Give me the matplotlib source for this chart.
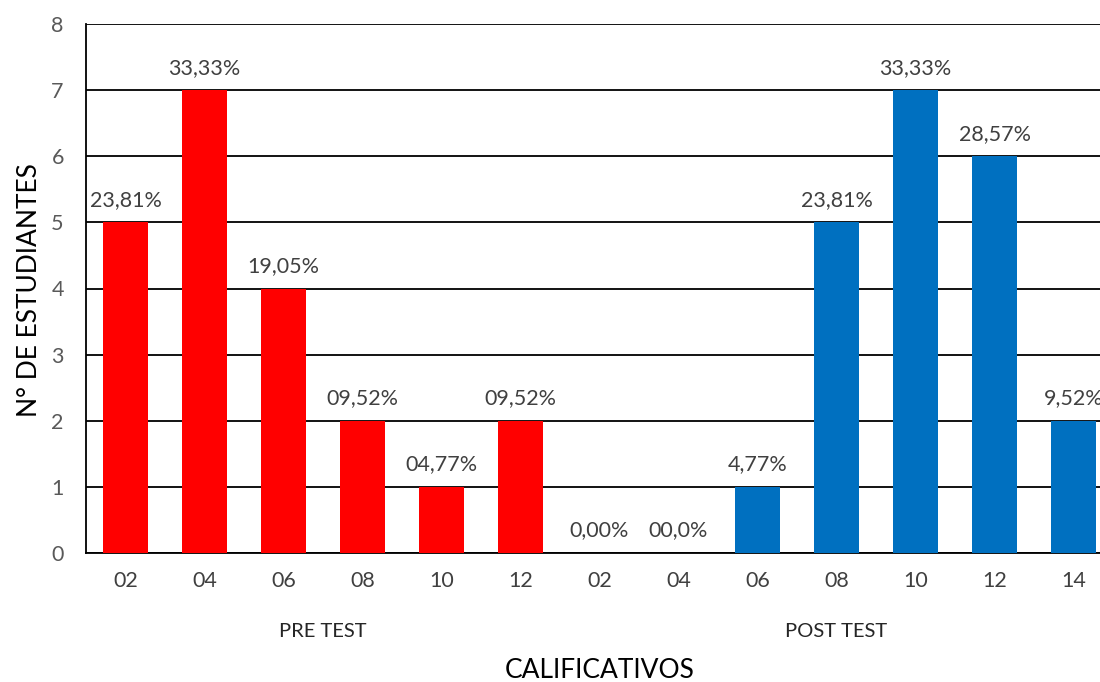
import matplotlib
matplotlib.use('Agg')
import numpy as np
from matplotlib import pyplot as plt

plt.rcParams['font.family'] = ['Lato', 'DejaVu Sans']

# calificativos por grupo
categorias = ['02', '04', '06', '08', '10', '12', '02', '04', '06', '08', '10', '12', '14']
estudiantes = [5, 7, 4, 2, 1, 2, 0, 0, 1, 5, 7, 6, 2]
porcentajes = ['23,81%', '33,33%', '19,05%', '09,52%', '04,77%', '09,52%',
               '0,00%', '00,0%', '4,77%', '23,81%', '33,33%', '28,57%', '9,52%']
grupos = ['PRE TEST', 'POST TEST']
n_pre = 6

colores = ['#FF0000'] * n_pre + ['#0070C0'] * (len(categorias) - n_pre)

fig = plt.figure(figsize=(11, 6.82), dpi=100)
# plot area runs a bit past the right edge
ax = fig.add_axes([86 / 1100, 129 / 682, 1027 / 1100, 529 / 682])

x = np.arange(len(categorias))
bars = ax.bar(x, estudiantes, width=0.56, color=colores, zorder=3)

for xi, v, txt in zip(x, estudiantes, porcentajes):
    ax.annotate(txt, (xi, v), xytext=(0, 9), textcoords='offset points',
                ha='center', va='bottom', fontsize=15.5, color='#404040')

ax.set_xlim(-0.5, len(categorias) - 0.5)
ax.set_ylim(0, 8)
ax.set_yticks(range(0, 9))
ax.set_xticks(x)
ax.set_xticklabels(categorias)
ax.tick_params(axis='both', length=0, labelsize=15.5)
ax.tick_params(axis='x', pad=13, labelcolor='#404040')
ax.tick_params(axis='y', pad=16, labelcolor='#595959')

ax.grid(axis='y', color='black', linewidth=1.3, zorder=0)
for s in ['top', 'right']:
    ax.spines[s].set_visible(False)
ax.spines['left'].set_linewidth(1.3)
ax.spines['bottom'].set_linewidth(1.3)

# group labels under the ticks
centros = [(n_pre - 1) / 2, (n_pre + len(categorias) - 1) / 2]
for c, g in zip(centros, grupos):
    ax.text(c, -1.18, g, ha='center', va='center', fontsize=14.5, color='#262626')

fig.text(600 / 1100, 1 - 670 / 682, 'CALIFICATIVOS', ha='center', va='center',
         fontsize=19, color='black')
fig.text(30 / 1100, 1 - 290 / 682, 'N° DE ESTUDIANTES', ha='center', va='center',
         rotation=90, fontsize=19, color='black')

fig.savefig('out.png', dpi=100)
